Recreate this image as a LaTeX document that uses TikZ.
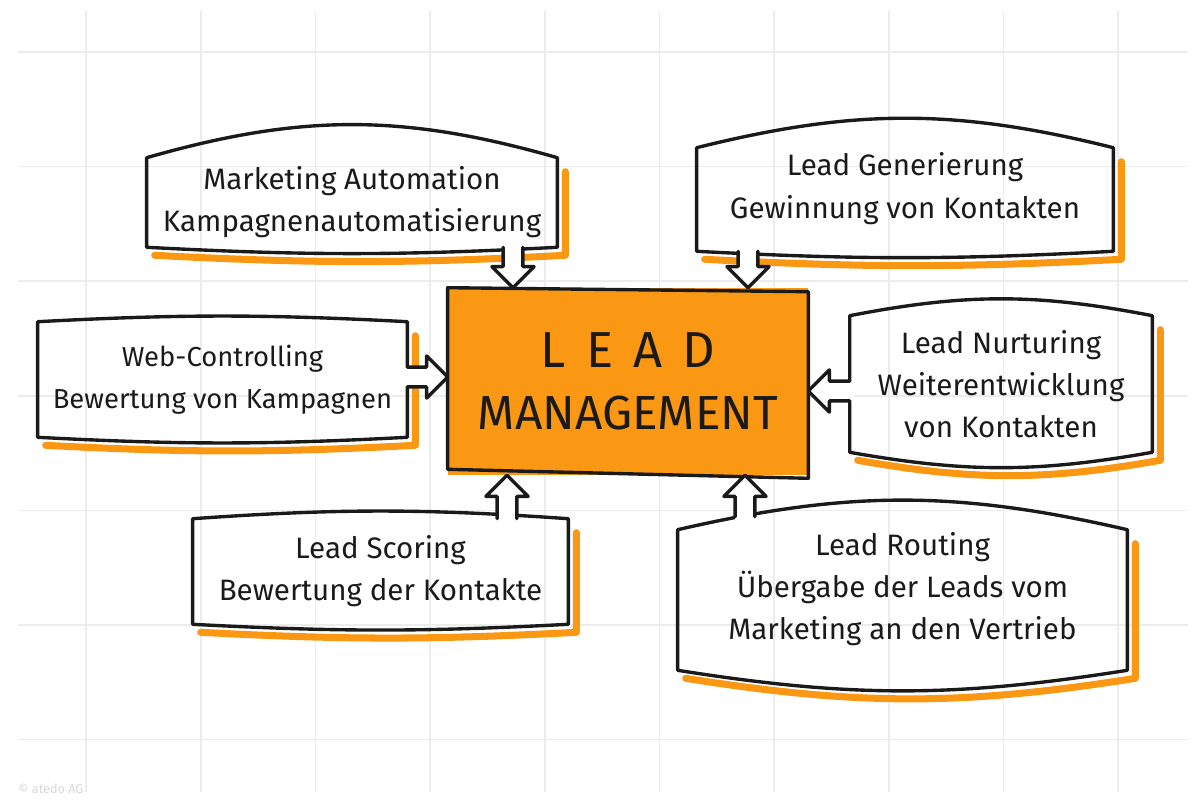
\documentclass[tikz,border=0pt]{standalone}
\usepackage{fontspec}
\setmainfont{Fira Sans}
\usetikzlibrary{calc}
\definecolor{leadorange}{RGB}{250,152,20}
\definecolor{inkblack}{RGB}{26,26,26}
\definecolor{gridgray}{RGB}{236,236,236}
\newcommand{\sketchbox}[3]{%
  \draw[shade] ($(#1.north east)+(8,-14)$) -- ($(#1.south east)+(8,-8)$) to[bend left=#3] ($(#1.south west)+(8,-8)$);
  \draw[sketch] (#1.north west) to[bend left=#2] (#1.north east) -- (#1.south east) to[bend left=#3] (#1.south west) -- cycle;
}
\newcommand{\leadarrow}[2]{%
  \coordinate (la-b) at ($(#2)!15pt!(#1)$);
  \coordinate (la-s) at ($(#1)!-3pt!(#2)$);
  \fill[white] ($(la-s)!7pt!90:(#2)$) -- ($(la-b)!7pt!90:(#2)$) -- ($(la-b)!15pt!90:(#2)$) -- (#2) -- ($(la-b)!15pt!-90:(#2)$) -- ($(la-b)!7pt!-90:(#2)$) -- ($(la-s)!7pt!-90:(#2)$) -- cycle;
  \draw[sketch] ($(#1)!7pt!90:(#2)$) -- ($(la-b)!7pt!90:(#2)$) -- ($(la-b)!15pt!90:(#2)$) -- (#2) -- ($(la-b)!15pt!-90:(#2)$) -- ($(la-b)!7pt!-90:(#2)$) -- ($(#1)!7pt!-90:(#2)$);
}
\begin{document}
\begin{tikzpicture}[x=0.025cm,y=0.025cm,
    sketch/.style={inkblack,line width=2.4pt,line join=round,line cap=round},
    shade/.style={leadorange,line width=5pt,line join=round,line cap=round},
    gridline/.style={gridgray,line width=1.2pt},
    topic/.style={inner sep=0pt,align=center,text=inkblack,font=\fontsize{21}{30}\selectfont},
    core/.style={fill=leadorange,inner sep=0pt,align=center,text=inkblack,font=\fontsize{34}{44}\selectfont,minimum width=9cm,minimum height=4.675cm},
    credit/.style={inner sep=0pt,anchor=west,text=gray!30,font=\fontsize{9}{10}\selectfont}]
    \useasboundingbox (0,0) rectangle (1200,-806);
    \foreach \gx in {0,...,9}
        \draw[gridline] ({86+114.7*\gx},-11) -- ({86+114.7*\gx},-792);
    \foreach \gy in {0,...,6}
        \draw[gridline] (18,{-52-114.6*\gy}) -- (1188,{-52-114.6*\gy});
    \node[credit] (copy) at (18,-789) {© atedo AG};

    \node[topic,minimum width=10.25cm,minimum height=2.225cm] (ma) at (352,-202.5) {Marketing Automation\\Kampagnenautomatisierung};
    \sketchbox{ma}{16}{3}
    \node[topic,minimum width=10.4cm,minimum height=2.575cm] (lg) at (905,-199.5) {Lead Generierung\\Gewinnung von Kontakten\\[-10pt]};
    \sketchbox{lg}{14}{3}
    \node[topic,font=\fontsize{19.5}{30}\selectfont,minimum width=9.225cm,minimum height=2.875cm] (wc) at (222.5,-379.5) {Web-Controlling\\Bewertung von Kampagnen};
    \sketchbox{wc}{3}{3}
    \node[topic,minimum width=7.55cm,minimum height=3.4cm] (ln) at (1001,-384) {Lead Nurturing\\Weiterentwicklung\\von Kontakten};
    \sketchbox{ln}{11}{10}
    \node[topic,minimum width=9.375cm,minimum height=2.625cm] (ls) at (380.5,-571.5) {Lead Scoring\\Bewertung der Kontakte};
    \sketchbox{ls}{4}{3}
    \node[topic,minimum width=11.225cm,minimum height=3.5cm] (lr) at (902.5,-600) {Lead Routing\\Übergabe der Leads vom\\Marketing an den Vertrieb\\[-10pt]};
    \sketchbox{lr}{13}{9}

    \node[core] (lm) at (628,-381.5) {{\fontsize{36}{44}\selectfont\addfontfeature{LetterSpace=40}LEAD}\\MANAGEMENT};
    \draw[sketch] (lm.north west) -- ($(lm.north east)+(0,-4)$) -- ($(lm.south east)+(0,-3)$) -- ($(lm.south west)+(0,6)$) -- cycle;

    \coordinate (ma-out) at (513,0 |- ma.south);
    \coordinate (lg-out) at (748,0 |- lg.south);
    \coordinate (wc-out) at (wc.east |- 0,-377);
    \coordinate (ln-out) at (ln.west |- 0,-391);
    \coordinate (ls-out) at (507,0 |- ls.north);
    \coordinate (lr-out) at ($(745,0 |- lr.north)+(0,13)$);
    \coordinate (lm-ma) at (513,0 |- lm.north);
    \coordinate (lm-lg) at (748,0 |- lm.north);
    \coordinate (lm-wc) at (lm.west |- 0,-377);
    \coordinate (lm-ln) at (lm.east |- 0,-391);
    \coordinate (lm-ls) at (507,0 |- lm.south);
    \coordinate (lm-lr) at (745,0 |- lm.south);
    \leadarrow{ma-out}{lm-ma}
    \leadarrow{lg-out}{lm-lg}
    \leadarrow{wc-out}{lm-wc}
    \leadarrow{ln-out}{lm-ln}
    \leadarrow{ls-out}{lm-ls}
    \leadarrow{lr-out}{lm-lr}
\end{tikzpicture}
\end{document}
